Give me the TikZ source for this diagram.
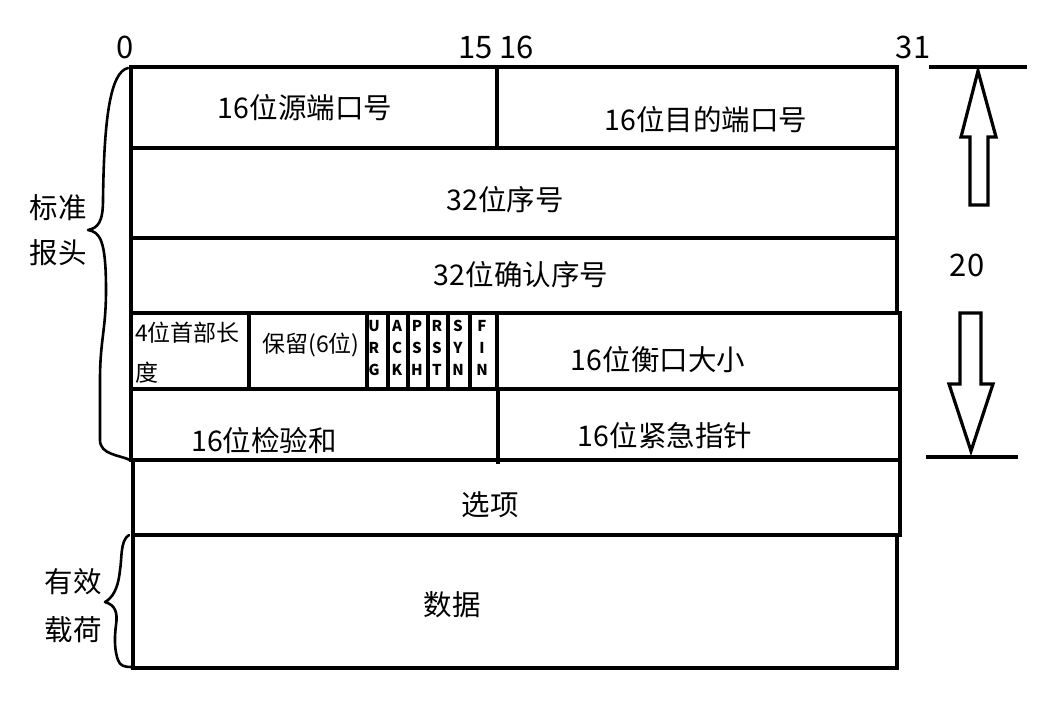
\documentclass[tikz,border=0pt]{standalone}
\usepackage{fontspec}
\setmainfont{Noto Sans CJK SC}
\begin{document}
\begin{tikzpicture}[x=1pt,y=-1pt,
  rule/.style={line width=4pt},
  thinrule/.style={line width=2.6pt, line join=round, line cap=round},
  big/.style={font=\fontsize{28.5}{31}\selectfont, inner sep=0pt},
  num/.style={font=\fontsize{31}{33}\selectfont, inner sep=0pt},
  mid/.style={font=\fontsize{23}{26}\selectfont, inner sep=0pt},
  flag/.style={font=\fontsize{15}{22}\selectfont\bfseries, inner sep=0pt, align=center}]
\useasboundingbox (0,0) rectangle (1049,705);
% frame
\draw[rule] (131,67) -- (898,67);
\draw[rule] (131,148) -- (898,148);
\draw[rule] (131,238) -- (898,238);
\draw[rule] (131,313) -- (901,313);
\draw[rule] (131,389) -- (901,389);
\draw[rule] (131,460) -- (901,460);
\draw[rule] (131,535) -- (901,535);
\draw[rule] (131,668) -- (898,668);
\draw[rule] (131,65) -- (131,462);
\draw[rule] (133,458) -- (133,670);
\draw[rule] (897,65) -- (897,313);
\draw[rule] (900,311) -- (900,537);
\draw[rule] (897,535) -- (897,670);
% mid lines
\draw[rule] (497,67) -- (497,148);
\draw[rule] (498,389) -- (498,464);
% row 4 dividers
\draw[rule] (249,313) -- (249,391);
\foreach \x in {367,388,408,428,448,470} \draw[rule] (\x,313) -- (\x,391);
\draw[rule] (497,311) -- (497,391);
% bit labels
\node[num] (b0) at (125,47) {0};
\node[num] (b15) at (496,47) {15 16};
\node[num] (b31) at (913,47) {31};
% field texts
\node[big] (src) at (305,108) {16位源端口号};
\node[big] (dst) at (706,120) {16位目的端口号};
\node[big] (seq) at (505,200) {32位序号};
\node[big] (ack) at (521,275) {32位确认序号};
\node[mid,anchor=west] (hl1) at (135,333) {4位首部长};
\node[mid,anchor=west] (hl2) at (135,373) {度};
\node[mid] (rsv) at (311,345) {保留(6位)};
\node[flag] (fU) at (374,348) {U\\R\\G};
\node[flag] (fA) at (397,348) {A\\C\\K};
\node[flag] (fP) at (417,348) {P\\S\\H};
\node[flag] (fR) at (437,348) {R\\S\\T};
\node[flag] (fS) at (458,348) {S\\Y\\N};
\node[flag] (fF) at (482,348) {F\\I\\N};
\node[big] (win) at (658,360) {16位衡口大小};
\node[big] (chk) at (264,441) {16位检验和};
\node[big] (urg) at (665,436) {16位紧急指针};
\node[big] (opt) at (490,505) {选项};
\node[big] (data) at (452,605) {数据};
% side labels
\node[big] (s1) at (58,208) {标准};
\node[big] (s2) at (58,253) {报头};
\node[big] (p1) at (73,582) {有效};
\node[big] (p2) at (73,630) {载荷};
\node[num] (n20) at (967,265) {20};
% braces
\draw[thinrule] (128,68) .. controls (110,72) and (104,120) .. (103,200)
  .. controls (103,222) and (98,228) .. (88,230)
  .. controls (100,232) and (106,240) .. (106,290)
  .. controls (106,330) and (100,340) .. (100,380)
  -- (100,440) .. controls (100,455) and (120,455) .. (130,460);
\draw[thinrule] (129,535) .. controls (120,540) and (122,560) .. (120,570)
  .. controls (118,590) and (112,598) .. (105,602)
  .. controls (115,605) and (118,612) .. (116,625)
  .. controls (114,640) and (115,652) .. (118,660)
  .. controls (120,666) and (125,667) .. (131,667);
% right arrows
\draw[rule] (929,67) -- (1027,67);
\draw[rule] (926,457) -- (1018,457);
\draw[line width=3.2pt, line join=miter] (978,71) -- (996,137) -- (988,137) -- (988,205) -- (970,205) -- (970,137) -- (961,137) -- cycle;
\draw[line width=3.2pt, line join=miter] (960,313) -- (981,313) -- (981,384) -- (993,384) -- (971,451) -- (949,384) -- (960,384) -- cycle;
\end{tikzpicture}
\end{document}
